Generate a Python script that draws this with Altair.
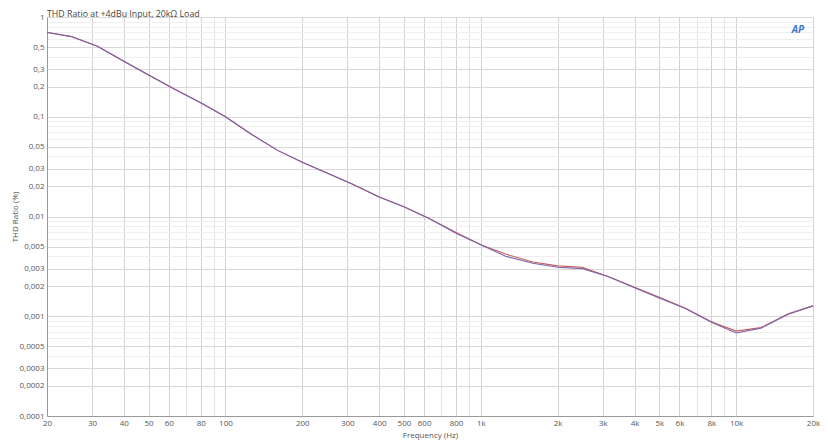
import altair as alt
import pandas as pd

# Frequencies (Hz)
freqs = [20, 25, 31.5, 40, 50, 63, 80, 100, 125, 160, 200, 315, 400, 500, 630, 800,
         1000, 1250, 1600, 2000, 2500, 3150, 4000, 5000, 6300, 8000, 10000, 12500, 16000, 20000]
# THD ratio (%) channel A (red) and channel B (purple)
thd_a = [0.703, 0.636, 0.51, 0.36, 0.262, 0.19, 0.138, 0.1, 0.068, 0.046, 0.035, 0.021, 0.0157,
         0.0125, 0.0095, 0.0069, 0.0052, 0.0042, 0.0035, 0.0032, 0.0031, 0.0025, 0.00195,
         0.00155, 0.00121, 0.00088, 0.00071, 0.00077, 0.00106, 0.00127]
thd_b = [0.700, 0.634, 0.51, 0.36, 0.262, 0.19, 0.138, 0.1, 0.068, 0.046, 0.035, 0.021, 0.0157,
         0.0125, 0.0095, 0.0068, 0.0052, 0.0040, 0.0034, 0.0031, 0.0030, 0.0025, 0.00193,
         0.00152, 0.00120, 0.00087, 0.00068, 0.00076, 0.00105, 0.00127]

x_ticks = [20, 30, 40, 50, 60, 80, 100, 200, 300, 400, 500, 600, 800, 1000, 2000, 3000,
           4000, 5000, 6000, 8000, 10000, 20000]
y_ticks = [1, 0.5, 0.3, 0.2, 0.1, 0.05, 0.03, 0.02, 0.01, 0.005, 0.003, 0.002, 0.001,
           0.0005, 0.0003, 0.0002, 0.0001]
x_minor = [70, 90, 700, 900, 7000, 9000]
y_minor = [m * d for d in [0.0001, 0.001, 0.01, 0.1] for m in [4, 6, 7, 8, 9]]

title_text = "THD Ratio at +4dBu Input, 20kΩ Load"

rows = []
for f, a, b in zip(freqs, thd_a, thd_b):
    rows.append({"f": f, "v": a, "ch": "A"})
    rows.append({"f": f, "v": b, "ch": "B"})
df = pd.DataFrame(rows)

FONT = "Open Sans"
FS = 8
xscale = alt.Scale(type="log", domain=[20, 20000], nice=False)
yscale = alt.Scale(type="log", domain=[0.0001, 1], nice=False)

xmaj = "[" + ",".join(repr(v) for v in x_ticks) + "]"
ymaj = "[" + ",".join(repr(v) for v in y_ticks) + "]"

lines = alt.Chart(df).mark_line(strokeWidth=1.1).encode(
    x=alt.X("f:Q", scale=xscale, title="Frequency (Hz)",
            axis=alt.Axis(values=sorted(x_ticks + x_minor), ticks=False, labelPadding=3,
                          labelFontSize=FS, labelColor="#555", labelFont=FONT, titleFont=FONT,
                          titleFontSize=FS, titleFontWeight="normal", titleColor="#555",
                          titlePadding=4, domainColor="#999", labelFlush=False,
                          labelOverlap=False,
                          gridColor={"condition": {"test": f"indexof({xmaj}, datum.value) >= 0",
                                                   "value": "#d2d2d2"}, "value": "#e4e4e4"},
                          labelExpr=f"indexof({xmaj}, datum.value) < 0 ? '' : (datum.value >= 1000 ? format(datum.value/1000, '~g') + 'k' : format(datum.value, '~g'))")),
    y=alt.Y("v:Q", scale=yscale, title="THD Ratio (%)",
            axis=alt.Axis(values=sorted(y_ticks + y_minor), ticks=False, labelPadding=3,
                          labelFontSize=FS, labelColor="#555", labelFont=FONT, titleFont=FONT,
                          titleFontSize=FS, titleFontWeight="normal", titleColor="#555",
                          titleX=-28, domainColor="#999", labelOverlap=False,
                          labelFlush=False,
                          gridColor={"condition": {"test": f"indexof({ymaj}, datum.value) >= 0",
                                                   "value": "#d9d9d9"}, "value": "#efefef"},
                          labelExpr=f"indexof({ymaj}, datum.value) < 0 ? '' : replace(format(datum.value, '~g'), '.', ',')")),
    color=alt.Color("ch:N", scale=alt.Scale(domain=["A", "B"], range=["#c85a5a", "#7a64a8"]),
                    legend=None),
    detail="ch:N",
)

logo = alt.Chart(pd.DataFrame({"t": ["AP"]})).mark_text(
    fontStyle="italic", fontWeight="bold", fontSize=10, color="#3a78d0", font=FONT
).encode(x=alt.value(751), y=alt.value(13), text="t:N")

title = alt.Chart(pd.DataFrame({"t": [title_text]})).mark_text(
    fontSize=8.8, color="#444", font=FONT, align="left", baseline="alphabetic"
).encode(x=alt.value(0), y=alt.value(-0.5), text="t:N")

chart = alt.layer(lines, logo, title).properties(
    width=766, height=399,
    autosize=alt.AutoSizeParams(type="none"),
    padding={"left": 39, "top": 9, "right": 7, "bottom": 30},
).configure_view(stroke="#aaa", strokeWidth=1)

chart.save("out.html", embed_options={"renderer": "svg", "actions": False})
